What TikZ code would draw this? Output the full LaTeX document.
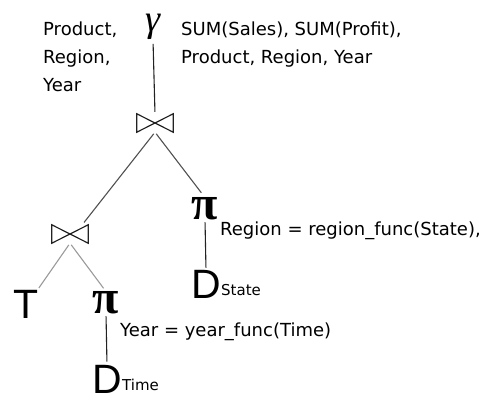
\documentclass[tikz,border=0pt]{standalone}
\usepackage{fontspec}
\usepackage{xcolor}
\usetikzlibrary{calc,positioning}
\setmainfont{DejaVu Sans}
\newfontfamily\greekfont{Liberation Serif}
\newfontfamily\letterfont{Liberation Sans}
\definecolor{color_line_default}{HTML}{222222}
\definecolor{color_line_upper}{HTML}{505050}
\definecolor{color_line_lower}{HTML}{9a9a9a}

\tikzset{
	opsym/.style={inner sep=0, font=\greekfont\fontsize{48}{48}\selectfont},
	relsym/.style={inner sep=0, anchor=base, font=\letterfont\fontsize{41}{41}\selectfont},
	relsub/.style={inner sep=0, anchor=base west, font=\fontsize{15}{15}\selectfont},
	attrs/.style={inner sep=0, align=left, font=\fontsize{18}{28}\selectfont},
	joinbox/.style={inner sep=0, minimum width=36pt, minimum height=18pt},
	bowtie/.style={line width=1.2pt, color_line_default, line join=miter},
	treeline/.style={line width=1.1pt, color_line_default},
}

\begin{document}
\begin{tikzpicture}[x=1pt,y=-1pt]
	\useasboundingbox (0, 0) rectangle (485, 401);
	% Operators
	\node[opsym, font=\greekfont\fontsize{38}{38}\selectfont] (gamma) at (153, 27) {\itshape γ};
	\node[joinbox] (joinA) at (155, 123) {};
	\node[joinbox] (joinB) at (70, 234) {};
	\node[opsym] (projR) at (205, 209) {\bfseries π};
	\node[opsym] (projL) at (106, 303) {\bfseries π};

	% Relations
	\node[relsym] (relT) at (26, 318) {T};
	\node[relsym] (dstate) at (206, 298) {D};
	\node[relsub] (dstatesub) at ([yshift=3]dstate.base east) {State};
	\node[relsym] (dtime) at (107, 393) {D};
	\node[relsub] (dtimesub) at ([yshift=3]dtime.base east) {Time};

	% Attribute lists
	\node[attrs, anchor=north west] (groupattr) at (43, 22) {Product,\\Region,\\Year};
	\node[attrs, anchor=north west] (aggattr) at (181, 22) {SUM(Sales), SUM(Profit),\\Product,\ Region, Year};
	\node[attrs, anchor=base west] (regionattr) at (220, 235) {Region = region\_func(State),};
	\node[attrs, anchor=base west] (yearattr) at (120, 336) {Year = year\_func(Time)};

	% Join symbols
	\foreach \j in {joinA, joinB}
		\draw[bowtie] (\j.north west) -- (\j.south west) -- (\j.north east) -- (\j.south east) -- cycle;

	% Tree lines
	\draw[treeline, shorten <=4pt, shorten >=2pt] (gamma.south) -- (joinA.north);
	\draw[treeline, color_line_upper, shorten <=2pt, shorten >=3pt] (joinA.south) -- ([xshift=-6]joinB.north east);
	\draw[treeline, color_line_upper, shorten <=2pt, shorten >=6pt] (joinA.south) -- (projR.north);
	\draw[treeline, shorten <=2pt, shorten >=2pt] (projR.south) -- (dstate.north);
	\draw[treeline, color_line_lower, shorten <=2pt, shorten >=2pt] (joinB.south) -- ([xshift=-1]relT.north east);
	\draw[treeline, color_line_lower, shorten <=2pt, shorten >=4pt] (joinB.south) -- (projL.north);
	\draw[treeline, shorten <=2pt, shorten >=3pt] (projL.south) -- (dtime.north);
\end{tikzpicture}
\end{document}
